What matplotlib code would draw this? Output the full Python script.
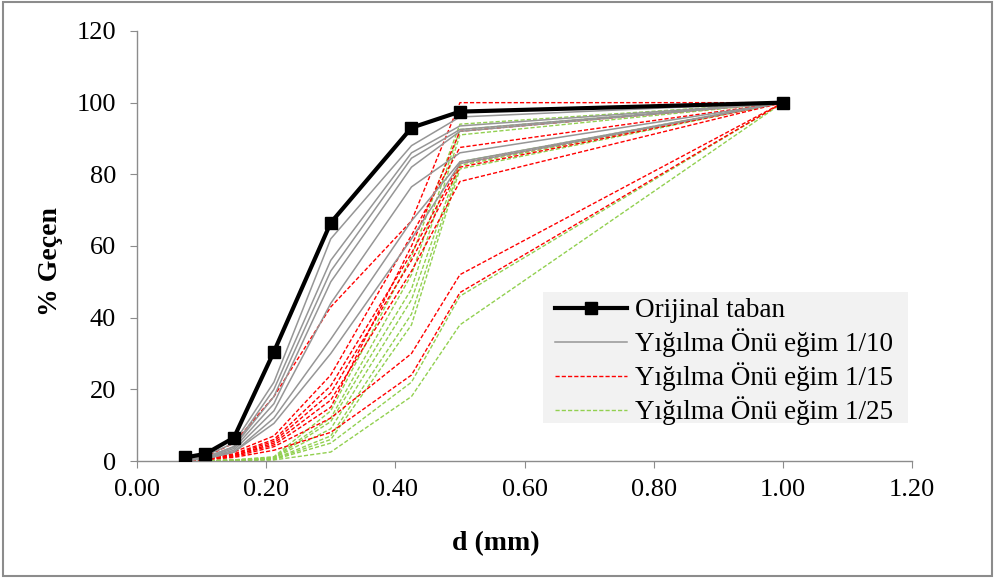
import matplotlib
matplotlib.use("Agg")
import matplotlib.pyplot as plt
from matplotlib.patches import Rectangle

plt.rcParams['font.family'] = ['Liberation Serif', 'DejaVu Serif']

# Sieve openings (mm)
sieve_d = [0.075, 0.106, 0.15, 0.212, 0.3, 0.425, 0.5, 1.0]

# Original bed gradation (% passing)
original = [1.0, 2.0, 6.5, 30.5, 66.5, 93.0, 97.5, 100.0]

# Deposit front, slope 1/10
slope_10 = [
    [0.5, 1.5, 5.0, 22.0, 62.0, 88.0, 96.0, 100.0],
    [0.3, 1.0, 4.0, 20.0, 56.0, 86.0, 93.5, 100.0],
    [0.3, 1.0, 4.0, 18.0, 53.0, 84.5, 92.5, 100.0],
    [0.2, 0.8, 3.5, 16.0, 50.0, 82.0, 92.0, 100.0],
    [0.2, 0.8, 3.0, 14.0, 44.0, 76.5, 86.0, 100.0],
    [0.2, 0.6, 2.5, 12.0, 34.0, 67.0, 83.5, 100.0],
    [0.2, 0.6, 2.5, 10.5, 30.0, 62.0, 83.0, 100.0],
]

# Deposit front, slope 1/15
slope_15 = [
    [0.5, 1.2, 5.0, 18.0, 43.0, 67.0, 100.0, 100.0],
    [0.3, 1.0, 2.5, 7.0, 24.0, 63.0, 87.5, 100.0],
    [0.3, 0.8, 2.0, 6.0, 21.0, 58.0, 83.0, 100.0],
    [0.2, 0.7, 1.8, 5.5, 19.0, 56.0, 82.0, 100.0],
    [0.2, 0.6, 1.5, 5.0, 17.0, 53.0, 78.0, 100.0],
    [0.2, 0.6, 1.5, 4.5, 15.0, 60.0, 92.0, 100.0],
    [0.2, 0.5, 1.2, 4.0, 12.0, 30.0, 52.0, 100.0],
    [0.1, 0.4, 1.0, 3.0, 8.0, 24.0, 47.0, 100.0],
]

# Deposit front, slope 1/25
slope_25 = [
    [0.0, 0.1, 0.3, 1.2, 14.0, 57.0, 94.0, 100.0],
    [0.0, 0.1, 0.3, 1.0, 12.0, 52.0, 92.5, 100.0],
    [0.0, 0.1, 0.2, 0.8, 11.0, 48.0, 91.0, 100.0],
    [0.0, 0.1, 0.2, 0.8, 9.0, 45.0, 83.5, 100.0],
    [0.0, 0.1, 0.2, 0.6, 7.0, 41.0, 82.5, 100.0],
    [0.0, 0.0, 0.2, 0.5, 6.0, 38.0, 81.5, 100.0],
    [0.0, 0.0, 0.1, 0.4, 5.0, 22.0, 46.0, 100.0],
    [0.0, 0.0, 0.1, 0.3, 2.5, 18.0, 38.0, 100.0],
]

labels = ["Orijinal taban", "Yığılma Önü eğim 1/10",
          "Yığılma Önü eğim 1/15", "Yığılma Önü eğim 1/25"]

x_ticks = [0.0, 0.2, 0.4, 0.6, 0.8, 1.0, 1.2]
y_ticks = [0, 20, 40, 60, 80, 100, 120]

fig = plt.figure(figsize=(9.95, 5.78), dpi=100)
ax = fig.add_axes([0.1377, 0.2024, 0.7789, 0.744])

gray_c = "#969696"
red_c = "#ff0000"
green_c = "#92d050"

for i, s in enumerate(slope_25):
    ax.plot(sieve_d, s, color=green_c, lw=1.0, ls=(0, (3, 1.5)),
            label=labels[3] if i == 0 else None, zorder=2)
for i, s in enumerate(slope_15):
    ax.plot(sieve_d, s, color=red_c, lw=1.0, ls=(0, (3, 1.5)),
            label=labels[2] if i == 0 else None, zorder=3)
for i, s in enumerate(slope_10):
    ax.plot(sieve_d, s, color=gray_c, lw=1.1, ls='-',
            label=labels[1] if i == 0 else None, zorder=4)
ax.plot(sieve_d, original, color='black', lw=3, marker='s', ms=9,
        label=labels[0], zorder=5)

ax.set_xlim(0, 1.2)
ax.set_ylim(0, 120)
ax.set_xticks(x_ticks)
ax.set_xticklabels([f"{v:.2f}" for v in x_ticks])
ax.set_yticks(y_ticks)
ax.set_yticklabels([str(v) for v in y_ticks])

for side in ['top', 'right']:
    ax.spines[side].set_visible(False)
for side in ['left', 'bottom']:
    ax.spines[side].set_color('#8c8c8c')
    ax.spines[side].set_linewidth(1.0)
ax.tick_params(axis='both', direction='out', length=5, color='#8c8c8c',
               labelsize=19)
ax.tick_params(axis='x', pad=8)
ax.tick_params(axis='y', pad=10)

ax.set_xlabel("d (mm)", fontsize=20, fontweight='bold')
ax.xaxis.label.set_va('center')
ax.xaxis.set_label_coords(0.463, -0.191)
ax.set_ylabel("% Geçen", fontsize=20, fontweight='bold')
ax.yaxis.label.set_va('center')
ax.yaxis.set_label_coords(-0.112, 0.463)

# Legend panel (light gray box drawn over the curves)
ax.add_patch(Rectangle((0.524, 0.088), 0.471, 0.305, transform=ax.transAxes,
                       facecolor='#f2f2f2', edgecolor='none', zorder=6))

handles, labs = ax.get_legend_handles_labels()
order = [labs.index(l) for l in labels]
leg = ax.legend([handles[i] for i in order], [labs[i] for i in order],
                loc='center', bbox_to_anchor=(0.7575, 0.231),
                fontsize=19.5, frameon=False,
                handlelength=2.65, borderpad=0.0, labelspacing=0.19,
                handletextpad=0.3, borderaxespad=0)
leg.set_zorder(7)

# Outer chart border
fig.patches.append(Rectangle((0.003, 0.004), 0.994, 0.992,
                             transform=fig.transFigure, fill=False,
                             edgecolor='#8c8c8c', lw=1.5))

fig.savefig("out.png", dpi=100)
